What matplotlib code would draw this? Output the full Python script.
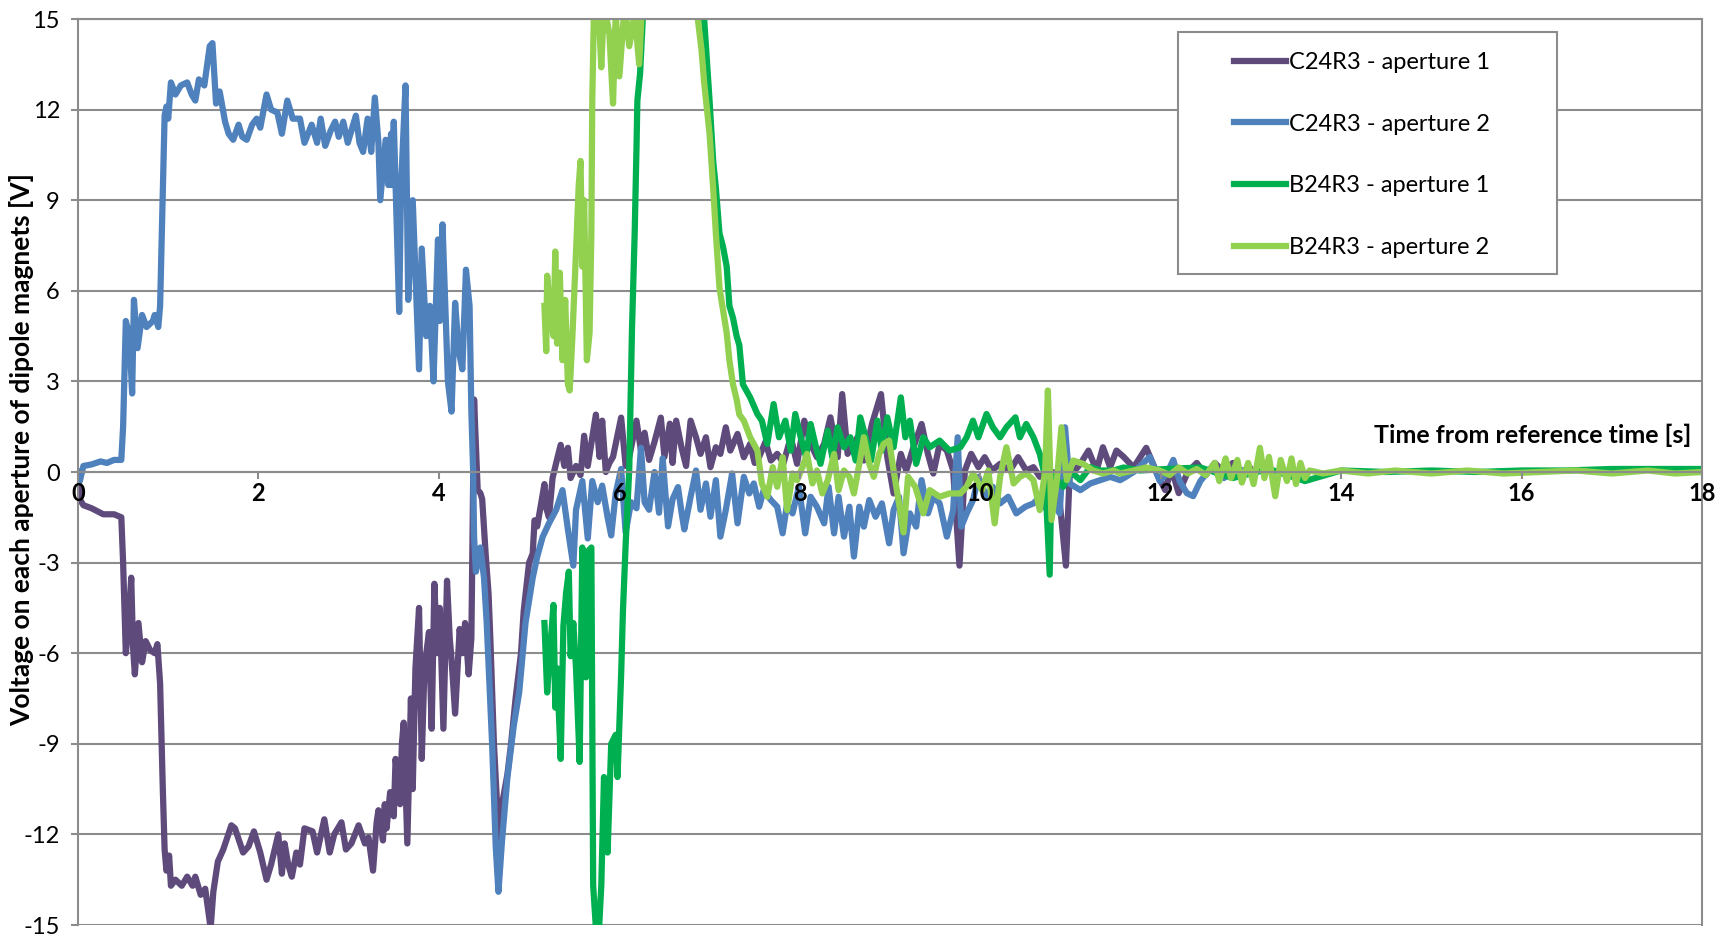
import numpy as np
import matplotlib.pyplot as plt
from matplotlib.patches import Rectangle

plt.rcParams['font.family'] = ['Lato', 'DejaVu Sans']
plt.rcParams['axes.unicode_minus'] = False

# C24R3 - aperture 1 (purple)
t_c1 = [0.00, 0.02, 0.06, 0.15, 0.28, 0.40, 0.48, 0.50, 0.53, 0.56, 0.59, 0.61, 0.63, 0.67, 0.71, 0.75,
        0.80, 0.85, 0.88, 0.91, 0.94, 0.96, 0.98, 1.01, 1.03, 1.08, 1.15, 1.21, 1.27, 1.30, 1.36, 1.41,
        1.47, 1.50, 1.55, 1.61, 1.70, 1.74, 1.83, 1.89, 1.95, 2.02, 2.09, 2.14, 2.22, 2.26, 2.29, 2.33,
        2.37, 2.42, 2.46, 2.51, 2.60, 2.65, 2.73, 2.79, 2.84, 2.92, 2.97, 3.03, 3.11, 3.18, 3.22, 3.27,
        3.31, 3.33, 3.38, 3.40, 3.42, 3.46, 3.50, 3.52, 3.57, 3.59, 3.61, 3.65, 3.69, 3.71, 3.74, 3.78,
        3.81, 3.84, 3.89, 3.92, 3.95, 3.98, 4.01, 4.05, 4.09, 4.12, 4.14, 4.18, 4.23, 4.26, 4.29, 4.33,
        4.36, 4.39, 4.43, 4.46, 4.48, 4.52, 4.55, 4.57, 4.61, 4.65, 4.67, 4.70, 4.76, 4.80, 4.85, 4.91,
        4.94, 5.00, 5.04, 5.06, 5.09, 5.17, 5.19, 5.22, 5.26, 5.30, 5.35, 5.39, 5.43, 5.46, 5.52, 5.57,
        5.61, 5.65, 5.74, 5.78, 5.81, 5.85, 5.89, 5.93, 6.02, 6.07, 6.11, 6.19, 6.24, 6.28, 6.33, 6.39,
        6.46, 6.50, 6.56, 6.59, 6.63, 6.69, 6.74, 6.79, 6.85, 6.90, 6.96, 7.01, 7.07, 7.12, 7.18, 7.23,
        7.31, 7.38, 7.45, 7.50, 7.55, 7.62, 7.68, 7.75, 7.82, 7.90, 7.97, 8.05, 8.12, 8.19, 8.27, 8.34,
        8.42, 8.47, 8.53, 8.64, 8.71, 8.80, 8.90, 8.97, 9.04, 9.12, 9.18, 9.26, 9.35, 9.42, 9.48, 9.55,
        9.63, 9.70, 9.77, 9.83, 9.90, 9.98, 10.05, 10.13, 10.22, 10.33, 10.42, 10.51, 10.59, 10.66, 10.75, 10.85,
        10.95, 10.99, 11.11, 11.20, 11.29, 11.36, 11.44, 11.51, 11.59, 11.70, 11.84, 11.96, 12.05, 12.12, 12.20, 12.30,
        12.40, 12.50, 12.60, 12.70, 12.80, 12.90, 13.00]
v_c1 = [0.0, -0.9, -1.1, -1.2, -1.4, -1.4, -1.5, -3.0, -6.0, -5.0, -3.5, -5.8, -6.7, -5.0, -6.3, -5.6,
        -5.9, -6.0, -5.7, -7.0, -10.5, -12.5, -13.2, -12.7, -13.7, -13.5, -13.7, -13.4, -13.7, -13.4, -14.0, -13.8,
        -15.1, -13.9, -12.9, -12.5, -11.7, -11.8, -12.6, -12.4, -11.9, -12.6, -13.5, -13.0, -12.0, -13.3, -12.3, -13.0,
        -13.4, -12.6, -13.0, -11.8, -11.9, -12.6, -11.5, -12.6, -12.0, -11.6, -12.5, -12.3, -11.7, -12.3, -12.1, -13.2,
        -11.6, -11.2, -12.2, -11.0, -11.8, -10.6, -11.4, -9.5, -11.0, -9.0, -8.3, -12.3, -7.5, -10.5, -6.5, -4.5,
        -9.5, -6.5, -5.3, -8.5, -3.7, -6.0, -4.5, -8.5, -3.6, -5.5, -6.2, -8.0, -5.2, -6.0, -5.0, -6.7,
        -5.5, 2.4, -0.6, -0.7, -0.9, -2.8, -4.0, -5.5, -9.0, -11.3, -12.2, -11.0, -10.0, -9.0, -7.5, -6.0,
        -4.6, -3.0, -2.7, -1.6, -1.8, -0.4, -1.2, -1.5, -0.2, 0.3, 0.9, 0.2, 0.8, -0.2, 0.2, -0.1,
        1.2, 0.2, 1.9, 0.5, 1.7, 0.0, 0.3, 0.5, 1.8, 0.2, 0.5, 1.7, 0.7, 1.3, 0.4, 1.0,
        1.8, 0.5, 1.6, 0.3, 1.7, 0.8, 0.2, 1.7, 1.15, 0.6, 1.15, 0.16, 0.82, 0.6, 1.48, 0.71,
        1.26, 0.49, 0.93, 0.3, 0.5, 1.0, 0.38, 0.6, 0.3, 1.15, 0.27, 1.7, 0.93, 0.49, 0.93, 1.81,
        0.49, 2.58, 0.6, 1.15, 0.38, 1.59, 2.58, 0.49, -0.71, 0.6, 0.05, 0.82, 1.59, 0.6, -0.05, 0.93,
        0.71, 0.05, -3.1, 0.05, 0.6, 0.16, 0.49, 0.05, 0.27, 0.05, 0.49, 0.05, 0.16, -0.16, 0.05, -0.05,
        -3.1, -0.16, 0.27, 0.71, 0.05, 0.82, 0.16, 0.71, 0.5, 0.15, 0.8, -0.05, -0.6, 0.1, -0.7, 0.0,
        0.3, -0.1, 0.3, 0.0, 0.3, -0.1, 0.1]

# C24R3 - aperture 2 (blue)
t_c2 = [0.00, 0.02, 0.06, 0.15, 0.25, 0.32, 0.40, 0.48, 0.50, 0.53, 0.57, 0.60, 0.62, 0.66, 0.71, 0.76,
        0.83, 0.85, 0.89, 0.91, 0.93, 0.96, 0.98, 1.00, 1.03, 1.08, 1.14, 1.21, 1.26, 1.30, 1.34, 1.40,
        1.46, 1.49, 1.53, 1.57, 1.63, 1.67, 1.72, 1.78, 1.82, 1.87, 1.93, 1.98, 2.02, 2.09, 2.14, 2.21,
        2.26, 2.32, 2.38, 2.46, 2.51, 2.59, 2.65, 2.69, 2.74, 2.80, 2.85, 2.89, 2.94, 2.99, 3.04, 3.08,
        3.12, 3.16, 3.21, 3.25, 3.29, 3.33, 3.35, 3.41, 3.44, 3.47, 3.48, 3.50, 3.56, 3.58, 3.63, 3.66,
        3.71, 3.78, 3.81, 3.86, 3.90, 3.94, 3.99, 4.01, 4.04, 4.10, 4.14, 4.18, 4.22, 4.26, 4.30, 4.34,
        4.36, 4.38, 4.39, 4.41, 4.46, 4.50, 4.53, 4.59, 4.63, 4.66, 4.70, 4.76, 4.83, 4.89, 4.96, 5.04,
        5.09, 5.15, 5.22, 5.30, 5.37, 5.43, 5.49, 5.52, 5.59, 5.65, 5.70, 5.76, 5.81, 5.87, 5.91, 5.96,
        6.02, 6.07, 6.13, 6.19, 6.24, 6.28, 6.33, 6.39, 6.44, 6.48, 6.54, 6.59, 6.65, 6.69, 6.72, 6.79,
        6.85, 6.90, 6.96, 7.01, 7.07, 7.12, 7.18, 7.25, 7.31, 7.38, 7.44, 7.49, 7.55, 7.60, 7.68, 7.75,
        7.81, 7.86, 7.92, 7.99, 8.06, 8.12, 8.19, 8.27, 8.32, 8.38, 8.43, 8.49, 8.55, 8.60, 8.66, 8.71,
        8.77, 8.84, 8.91, 8.99, 9.04, 9.10, 9.15, 9.22, 9.29, 9.35, 9.42, 9.48, 9.55, 9.63, 9.70, 9.75,
        9.79, 9.85, 9.92, 9.98, 10.07, 10.14, 10.22, 10.31, 10.40, 10.50, 10.59, 10.66, 10.74, 10.81, 10.88, 10.94,
        10.99, 11.11, 11.22, 11.33, 11.44, 11.55, 11.62, 11.70, 11.88, 11.99, 12.07, 12.14, 12.21, 12.29, 12.36, 12.44,
        12.55, 12.70, 12.85, 13.00]
v_c2 = [0.0, -0.3, 0.2, 0.25, 0.35, 0.3, 0.4, 0.4, 1.5, 5.0, 4.5, 2.6, 5.7, 4.1, 5.2, 4.8,
        5.0, 5.2, 4.8, 5.5, 8.0, 11.8, 12.1, 11.7, 12.9, 12.5, 12.8, 12.9, 12.5, 12.3, 13.0, 12.8,
        14.1, 14.2, 12.2, 12.6, 11.6, 11.2, 11.0, 11.5, 11.1, 11.0, 11.5, 11.7, 11.4, 12.5, 12.0, 11.9,
        11.2, 12.3, 11.7, 11.7, 10.9, 11.5, 10.9, 11.7, 10.8, 11.3, 11.6, 11.1, 11.6, 10.9, 11.4, 11.8,
        10.9, 10.6, 11.7, 10.6, 12.4, 10.9, 9.0, 11.0, 9.5, 11.2, 9.5, 11.6, 5.3, 9.4, 12.8, 5.7,
        9.0, 3.4, 7.4, 4.5, 5.5, 3.0, 7.7, 5.0, 8.2, 3.0, 2.0, 5.6, 4.0, 3.4, 6.7, 5.5,
        2.0, 0.0, -2.15, -3.3, -2.5, -3.5, -5.0, -9.0, -12.4, -13.9, -12.2, -10.1, -8.4, -7.3, -5.0, -3.5,
        -2.8, -2.15, -1.7, -1.25, -0.6, -1.9, -3.1, -1.25, -0.3, -2.2, -0.3, -1.0, -0.45, -1.5, -2.1, -0.7,
        0.1, -2.0, -1.0, -1.2, 0.8, -1.0, -1.25, 0.0, -1.35, 0.45, -1.8, -0.9, -0.5, -1.35, -1.9, -0.82,
        0.05, -1.25, -0.38, -1.48, -0.27, -2.14, -1.26, -0.05, -1.7, -0.16, -0.71, -0.38, -1.15, -0.6, -0.93, -1.15,
        -2.03, -1.04, -1.37, -0.49, -2.03, -0.82, -1.15, -1.7, -0.49, -2.03, -0.82, -2.14, -1.15, -2.8, -1.15, -1.81,
        -0.93, -1.48, -1.04, -2.36, -1.26, -0.82, -2.69, -1.37, -1.81, -0.27, -1.37, -0.82, -1.04, -2.14, -1.26, 1.15,
        -1.81, -1.37, -0.93, -0.16, -0.82, -0.49, -1.04, -0.82, -1.37, -1.15, -1.04, -0.82, -1.26, -1.04, -1.37, 1.48,
        -0.38, -0.6, -0.38, -0.27, -0.16, -0.27, -0.15, 0.0, 0.5, -0.3, -0.05, 0.4, -0.3, -0.7, -0.8, -0.3,
        0.1, -0.2, 0.1, 0.0]

# B24R3 - aperture 1 (dark green)
t_b1 = [5.17, 5.20, 5.24, 5.27, 5.29, 5.31, 5.35, 5.38, 5.41, 5.44, 5.46, 5.49, 5.52, 5.56, 5.59, 5.63,
        5.66, 5.69, 5.71, 5.76, 5.80, 5.83, 5.87, 5.91, 5.96, 5.98, 6.02, 6.04, 6.07, 6.11, 6.14, 6.17,
        6.19, 6.20, 6.23, 6.26, 6.35, 6.60, 6.85, 6.94, 7.00, 7.04, 7.07, 7.11, 7.15, 7.19, 7.22, 7.26,
        7.30, 7.33, 7.37, 7.45, 7.53, 7.58, 7.64, 7.71, 7.77, 7.84, 7.90, 7.95, 8.01, 8.07, 8.12, 8.18,
        8.23, 8.31, 8.36, 8.42, 8.49, 8.56, 8.62, 8.67, 8.73, 8.79, 8.86, 8.91, 8.97, 9.04, 9.12, 9.17,
        9.22, 9.29, 9.37, 9.44, 9.55, 9.66, 9.78, 9.85, 9.92, 9.98, 10.07, 10.14, 10.22, 10.29, 10.39, 10.44,
        10.51, 10.59, 10.66, 10.72, 10.77, 10.79, 10.85, 10.92, 10.99, 11.11, 11.22, 11.33, 11.48, 11.59, 11.77, 12.07,
        12.44, 12.80, 13.20, 13.60, 14.00, 14.50, 15.00, 15.50, 16.00, 16.50, 17.00, 17.50, 18.00]
v_b1 = [-5.0, -7.3, -5.6, -4.4, -7.8, -6.5, -9.5, -5.1, -4.0, -3.3, -6.1, -5.0, -6.5, -9.6, -2.5, -6.8,
        -2.6, -2.5, -13.7, -16.0, -13.7, -10.1, -12.6, -9.0, -8.7, -10.1, -6.7, -4.6, -2.4, 0.1, 4.7, 7.9,
        10.7, 12.3, 13.2, 15.0, 18.0, 22.0, 18.0, 15.0, 12.3, 10.3, 9.4, 7.9, 7.45, 6.8, 5.5, 5.1,
        4.5, 4.2, 2.9, 2.47, 1.92, 1.7, 0.93, 2.25, 1.15, 1.7, 0.71, 1.92, 1.15, 0.49, 1.59, 0.82,
        0.27, 1.37, 0.49, 1.48, 0.82, 1.15, 0.38, 1.81, 1.15, 0.38, 1.7, 0.71, 1.81, 0.82, 2.47, 1.15,
        1.7, 0.27, 1.15, 0.82, 1.04, 0.71, 0.82, 1.15, 1.7, 1.15, 1.92, 1.48, 1.15, 1.48, 1.81, 1.15,
        1.59, 1.15, 0.6, -0.16, -3.4, -0.05, -0.27, -0.49, 0.05, -0.27, 0.16, 0.05, 0.05, 0.15, 0.05, 0.1,
        0.15, -0.2, 0.1, -0.3, 0.05, 0.0, 0.05, 0.0, 0.05, 0.05, 0.1, 0.1, 0.1]

# B24R3 - aperture 2 (light green)
t_b2 = [5.17, 5.19, 5.20, 5.24, 5.27, 5.29, 5.31, 5.34, 5.37, 5.40, 5.43, 5.45, 5.48, 5.52, 5.55, 5.57,
        5.59, 5.61, 5.64, 5.67, 5.69, 5.70, 5.72, 5.76, 5.80, 5.83, 5.89, 5.93, 5.96, 6.00, 6.06, 6.11,
        6.17, 6.22, 6.26, 6.50, 6.87, 6.91, 6.94, 7.00, 7.04, 7.07, 7.11, 7.15, 7.19, 7.22, 7.26, 7.30,
        7.33, 7.38, 7.45, 7.53, 7.58, 7.64, 7.70, 7.75, 7.81, 7.86, 7.92, 7.97, 8.03, 8.08, 8.14, 8.19,
        8.25, 8.31, 8.38, 8.43, 8.49, 8.55, 8.60, 8.66, 8.71, 8.77, 8.82, 8.88, 8.93, 8.99, 9.04, 9.10,
        9.15, 9.20, 9.28, 9.37, 9.44, 9.55, 9.66, 9.78, 9.85, 9.92, 10.02, 10.09, 10.16, 10.22, 10.29, 10.37,
        10.44, 10.51, 10.59, 10.66, 10.72, 10.75, 10.79, 10.85, 10.90, 10.96, 11.03, 11.14, 11.25, 11.36, 11.48, 11.55,
        11.70, 11.84, 11.99, 12.10, 12.20, 12.30, 12.40, 12.50, 12.60, 12.65, 12.72, 12.78, 12.85, 12.90, 12.97, 13.03,
        13.10, 13.15, 13.20, 13.27, 13.33, 13.40, 13.45, 13.50, 13.55, 13.60, 13.65, 13.80, 14.00, 14.30, 14.60, 15.00,
        15.40, 15.80, 16.20, 16.60, 17.00, 17.40, 17.70, 18.00]
v_b2 = [5.5, 4.0, 6.5, 5.1, 4.5, 7.3, 4.25, 6.6, 3.7, 5.7, 2.9, 2.7, 4.5, 7.3, 9.5, 10.3,
        6.8, 9.0, 3.7, 4.6, 7.9, 12.3, 15.5, 16.0, 13.4, 15.5, 14.5, 12.2, 15.2, 13.1, 15.5, 14.1,
        15.2, 13.5, 16.0, 22.0, 15.0, 14.0, 12.9, 11.2, 9.4, 7.9, 6.1, 5.35, 4.6, 3.7, 2.9, 2.4,
        1.9, 1.7, 1.15, 0.71, -0.38, -0.82, 0.16, -0.49, 0.49, -1.26, -0.05, -0.27, 0.16, 0.6, -0.38, 0.05,
        -0.71, -0.27, 0.6, -0.6, 0.05, -0.16, -0.71, 0.27, 1.15, 0.27, -0.16, 0.6, 0.93, 1.04, 0.05, -1.04,
        -2.0, -0.16, -0.49, -1.37, -0.6, -0.82, -0.71, -0.71, -0.49, -0.05, -0.6, 0.05, -1.7, -0.16, 0.82, -0.38,
        -0.16, -0.05, -0.27, -1.26, 0.05, 2.7, -1.59, -0.27, 1.48, -0.27, 0.38, 0.27, 0.05, -0.05, 0.05, -0.05,
        0.05, 0.15, 0.05, -0.1, 0.15, -0.05, 0.1, -0.1, 0.3, -0.3, 0.45, -0.2, 0.4, -0.35, 0.3, -0.4,
        0.8, -0.2, 0.5, -0.8, 0.4, -0.3, 0.45, -0.4, 0.3, -0.2, 0.05, -0.05, 0.05, -0.05, 0.05, -0.05,
        0.05, -0.05, 0.0, 0.05, -0.05, 0.05, -0.05, 0.0]

labels = ["C24R3 - aperture 1", "C24R3 - aperture 2", "B24R3 - aperture 1", "B24R3 - aperture 2"]
colors = ["#5f4a7c", "#4f81bd", "#00b050", "#92d050"]
grey = '#8c8c8c'

fig = plt.figure(figsize=(17.31, 9.36), dpi=100)
ax = fig.add_axes([78 / 1731, 1 - 925 / 936, (1702 - 78) / 1731, (925 - 19) / 936])

series = [(t_c1, v_c1), (t_c2, v_c2), (t_b1, v_b1), (t_b2, v_b2)]
lines = []
for (t, v), c, lab in zip(series, colors, labels):
    ln, = ax.plot(t, v, color=c, lw=4.5, label=lab, solid_joinstyle='round')
    lines.append(ln)

ax.set_xlim(0, 18)
ax.set_ylim(-15, 15)
ax.set_xticks(np.arange(0, 19, 2))
ax.set_yticks(np.arange(-15, 16, 3))
ax.yaxis.grid(True, color=grey, lw=1.5)
ax.set_axisbelow(True)
ax.xaxis.set_zorder(4)  # x tick labels sit on top of the traces

ax.spines['bottom'].set_position(('data', 0))
for s in ax.spines.values():
    s.set_color(grey)
    s.set_linewidth(1.5)
ax.tick_params(axis='x', direction='out', length=5, width=1.5, color=grey, pad=2, labelsize=17)
ax.tick_params(axis='y', direction='out', length=5, width=1.5, color=grey, pad=8, labelsize=17)
for lab in ax.get_xticklabels():
    lab.set_fontweight('bold')

ax.text(17.88, 1.2, "Time from reference time [s]", ha='right', va='center',
        fontsize=18, fontweight='bold')
fig.text(22 / 1731, 1 - 450 / 936, "Voltage on each aperture of dipole magnets [V]",
         rotation=90, ha='center', va='center', fontsize=19, fontweight='bold')

# legend box
box = Rectangle((1178 / 1731, 1 - 274 / 936), (1557 - 1178) / 1731, (274 - 32) / 936,
                transform=fig.transFigure, facecolor='white', edgecolor=grey, lw=1.5,
                zorder=5, clip_on=False)
ax.add_patch(box)
leg = ax.legend(handles=lines, loc='upper left', bbox_to_anchor=(1234 / 1731, 1 - 52 / 936),
                bbox_transform=fig.transFigure, frameon=False, fontsize=17, handlelength=2.2,
                handletextpad=0.15, labelspacing=1.72, borderpad=0, borderaxespad=0)
leg.set_zorder(6)

fig.savefig("out.png", dpi=100)
